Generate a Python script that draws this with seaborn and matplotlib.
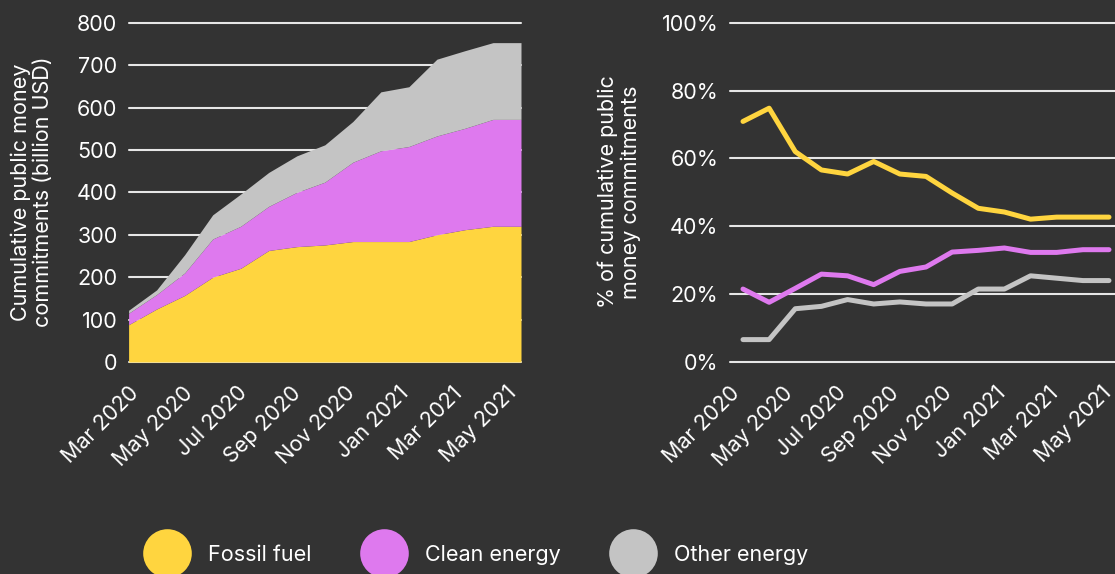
import matplotlib
matplotlib.use("Agg")
import matplotlib.pyplot as plt
import seaborn as sns
import numpy as np
import pandas as pd
from matplotlib.lines import Line2D
from matplotlib.ticker import FuncFormatter

months = ["Mar 2020", "Apr 2020", "May 2020", "Jun 2020", "Jul 2020", "Aug 2020",
          "Sep 2020", "Oct 2020", "Nov 2020", "Dec 2020", "Jan 2021", "Feb 2021",
          "Mar 2021", "Apr 2021", "May 2021"]
tick_labels = ["Mar 2020", "May 2020", "Jul 2020", "Sep 2020", "Nov 2020",
               "Jan 2021", "Mar 2021", "May 2021"]

# cumulative commitments (billion USD), stacked components
fossil_cum = [88, 125, 157, 200, 221, 263, 272, 276, 284, 284, 284, 300, 312, 320, 320]
clean_cum = [27, 34, 53, 90, 99, 104, 128, 148, 187, 214, 224, 233, 239, 252, 252]
other_cum = [7, 11, 43, 57, 76, 80, 86, 88, 96, 139, 141, 181, 183, 181, 181]

# share of cumulative commitments (%)
fossil_pct = [70.9, 74.8, 62.0, 56.6, 55.4, 59.1, 55.4, 54.7, 49.8, 45.3, 44.2, 42.1, 42.7, 42.7, 42.7]
clean_pct = [21.5, 17.6, 21.7, 25.9, 25.4, 22.8, 26.7, 28.0, 32.4, 32.9, 33.6, 32.3, 32.3, 33.1, 33.1]
other_pct = [6.6, 6.6, 15.7, 16.4, 18.4, 17.1, 17.7, 17.1, 17.1, 21.5, 21.5, 25.4, 24.7, 24.0, 24.0]

series = ["Fossil fuel", "Clean energy", "Other energy"]
colors = ["#FFD53F", "#DE79EE", "#C4C4C4"]
BG = "#333333"
FG = "#FFFFFF"
FS = 15.5

sns.set_theme(style="dark")
plt.rcParams["font.family"] = ["Inter", "DejaVu Sans"]
plt.rcParams["text.color"] = FG

W, H = 1115, 574
fig = plt.figure(figsize=(W / 100, H / 100), dpi=100, facecolor=BG)
ax1 = fig.add_axes([128.6 / W, 1 - 362 / H, (521 - 128.6) / W, (362 - 22.7) / H])
ax2 = fig.add_axes([729.5 / W, 1 - 362 / H, (W - 729.5) / W, (362 - 22.7) / H])

x = np.arange(len(months))

# left: stacked area
ax1.stackplot(x, fossil_cum, clean_cum, other_cum, colors=colors, linewidth=0, zorder=2)
ax1.set_xlim(0, len(months) - 1)
ax1.set_ylim(0, 800)
ax1.set_yticks(range(0, 801, 100))

# right: lines
df = pd.DataFrame({
    "x": np.tile(x, 3),
    "value": np.concatenate([fossil_pct, clean_pct, other_pct]) / 100.0,
    "series": np.repeat(series, len(months)),
})
sns.lineplot(data=df, x="x", y="value", hue="series", palette=colors, ax=ax2,
             linewidth=3.6, legend=False, zorder=3)
ax2.set_xlim(-0.516, 14.23)
ax2.set_ylim(0, 1.0)
ax2.set_yticks(np.arange(0, 1.01, 0.2))
ax2.yaxis.set_major_formatter(FuncFormatter(lambda v, p: f"{v*100:.0f}%"))
ax2.set_xlabel("")
ax2.set_ylabel("")

fig.text(32 / W, 1 - 192 / H, "Cumulative public money\ncommitments (billion USD)",
         rotation=90, ha="center", va="center", fontsize=FS, color=FG, linespacing=1.15)
fig.text(619 / W, 1 - 192 / H, "% of cumulative public\nmoney commitments",
         rotation=90, ha="center", va="center", fontsize=FS, color=FG, linespacing=1.15)

# tick layout (axes-fraction spacing of the label scale, as in the original)
tick_step_px = {ax1: 54.0, ax2: 53.1}
ax_width_px = {ax1: 521 - 128.6, ax2: W - 729.5}

for ax in (ax1, ax2):
    ax.set_facecolor(BG)
    ax.set_axisbelow(True)
    for s in ax.spines.values():
        s.set_visible(False)
    ax.grid(axis="y", color="#E6E6E6", linewidth=1.5, zorder=0)
    ax.grid(axis="x", visible=False)
    x0, x1 = ax.get_xlim()
    fr = np.arange(len(tick_labels)) * tick_step_px[ax] / ax_width_px[ax]
    ax.set_xticks(x0 + fr * (x1 - x0))
    ax.set_xticklabels(tick_labels, rotation=45, ha="right", va="top",
                       rotation_mode="anchor")
    ax.tick_params(axis="x", length=0, pad=15, labelsize=FS, colors=FG)
    ax.tick_params(axis="y", length=0, pad=8, labelsize=FS, colors=FG)
    for gl in ax.get_ygridlines():
        gl.set_clip_on(False)

handles = [Line2D([0], [0], marker="o", linestyle="none", markersize=35,
                  markerfacecolor=c, markeredgewidth=0) for c in colors]
fig.legend(handles, series, loc="center left", bbox_to_anchor=(142.5 / W, 1 - 555 / H),
           ncol=3, frameon=False, fontsize=FS, handlelength=2.3, handletextpad=0.75,
           columnspacing=2.22, borderpad=0, borderaxespad=0, labelcolor=FG)

fig.savefig("out.png", dpi=100, facecolor=BG)
